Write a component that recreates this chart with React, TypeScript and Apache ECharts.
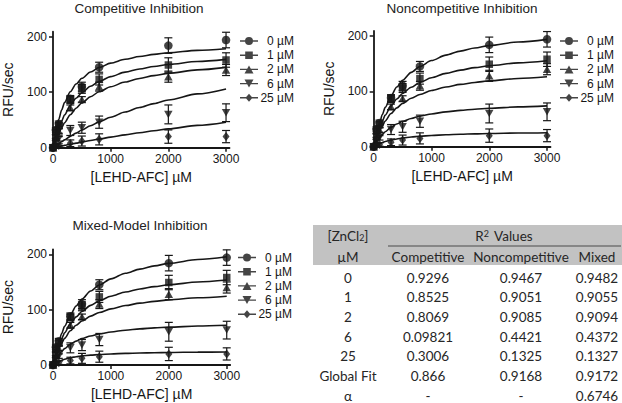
import React, { useEffect, useRef } from "react";
import * as echarts from "echarts";

// ---------- data ----------
const CONCENTRATIONS = ["0 µM", "1 µM", "2 µM", "6 µM", "25 µM"];
const SUBSTRATE = [0, 50, 100, 300, 500, 800, 2000, 3000];

const MEAN_0 = [0, 32, 43, 88, 110, 145, 184, 194];
const MEAN_1 = [0, 28, 40, 86, 106, 123, 149, 158];
const MEAN_2 = [0, 20, 30, 72, 87, 110, 128, 140];
const MEAN_6 = [0, 10, 16, 31, 36, 46, 60, 63];
const MEAN_25 = [0, 3, 4, 8, 12, 15, 20, 20];

const ERR_0 = [0, 4, 5, 6, 8, 9, 14, 14];
const ERR_1 = [0, 4, 5, 6, 8, 10, 13, 13];
const ERR_2 = [0, 3, 4, 5, 5, 8, 10, 10];
const ERR_6 = [0, 3, 4, 9, 10, 11, 17, 16];
const ERR_25 = [0, 2, 3, 6, 9, 10, 12, 11];

// fitted curves, read at these substrate values
const FIT_X = [0, 25, 50, 100, 150, 200, 300, 400, 500, 650, 800, 1000, 1250, 1500, 1750, 2000, 2500, 3000];

const COMP_FIT_0 = [0, 16.0, 29.5, 51.3, 68.0, 81.3, 100.9, 114.7, 125.0, 136.3, 144.4, 152.3, 159.3, 164.3, 168.1, 171.1, 175.4, 178.4];
const COMP_FIT_1 = [0, 10.3, 19.5, 35.3, 48.2, 59.1, 76.2, 89.1, 99.1, 110.7, 119.4, 128.1, 136.1, 141.9, 146.4, 150.0, 155.3, 159.1];
const COMP_FIT_2 = [0, 7.3, 13.9, 25.8, 36.0, 44.9, 59.5, 71.1, 80.6, 91.9, 100.7, 109.8, 118.3, 124.8, 129.9, 134.0, 140.2, 144.7];
const COMP_FIT_6 = [0, 1.9, 3.7, 7.3, 10.8, 14.1, 20.4, 26.3, 31.9, 39.5, 46.5, 54.9, 64.2, 72.3, 79.5, 86.0, 96.9, 105.9];
const COMP_FIT_25 = [0, 0.5, 1.1, 2.1, 3.2, 4.2, 6.2, 8.2, 10.1, 12.9, 15.6, 19.0, 23.1, 26.9, 30.5, 33.9, 40.3, 46.0];

const NONC_FIT_0 = [0, 12.4, 23.5, 42.5, 58.2, 71.3, 92.1, 107.8, 120.1, 134.3, 144.9, 155.6, 165.4, 172.7, 178.2, 182.6, 189.2, 193.9];
const NONC_FIT_1 = [0, 9.9, 18.8, 34.0, 46.6, 57.1, 73.8, 86.3, 96.2, 107.5, 116.1, 124.6, 132.5, 138.3, 142.8, 146.3, 151.5, 155.3];
const NONC_FIT_2 = [0, 8.1, 15.3, 27.7, 37.9, 46.5, 60.0, 70.2, 78.3, 87.5, 94.4, 101.4, 107.8, 112.5, 116.1, 119.0, 123.3, 126.3];
const NONC_FIT_6 = [0, 4.7, 8.9, 16.2, 22.1, 27.1, 35.0, 41.0, 45.7, 51.0, 55.1, 59.2, 62.9, 65.6, 67.7, 69.4, 71.9, 73.7];
const NONC_FIT_25 = [0, 1.6, 3.1, 5.5, 7.6, 9.3, 12.0, 14.0, 15.7, 17.5, 18.9, 20.3, 21.6, 22.5, 23.2, 23.8, 24.7, 25.3];

const MIX_FIT_0 = [0, 12.0, 22.9, 41.5, 56.9, 70.0, 90.8, 106.7, 119.1, 133.6, 144.5, 155.6, 165.7, 173.2, 179.0, 183.6, 190.5, 195.4];
const MIX_FIT_1 = [0, 10.2, 19.3, 34.8, 47.5, 58.0, 74.6, 87.0, 96.7, 107.7, 116.0, 124.3, 131.8, 137.4, 141.6, 145.0, 150.0, 153.5];
const MIX_FIT_2 = [0, 8.6, 16.3, 29.2, 39.6, 48.3, 61.8, 71.8, 79.5, 88.3, 94.9, 101.4, 107.4, 111.7, 115.0, 117.6, 121.5, 124.3];
const MIX_FIT_6 = [0, 5.5, 10.3, 18.2, 24.5, 29.6, 37.5, 43.2, 47.6, 52.5, 56.1, 59.7, 62.9, 65.2, 67.0, 68.4, 70.4, 71.9];
const MIX_FIT_25 = [0, 2.0, 3.7, 6.5, 8.7, 10.4, 13.0, 14.9, 16.3, 17.8, 18.9, 20.0, 21.0, 21.7, 22.2, 22.6, 23.2, 23.6];

const PANEL_TITLES = ["Competitive Inhibition", "Noncompetitive Inhibition", "Mixed-Model Inhibition"];
const X_TICKS = [0, 1000, 2000, 3000];
const Y_TICKS = [0, 100, 200];

const TABLE_ROW_LABELS = ["0", "1", "2", "6", "25", "Global Fit", "α"];
const TABLE_COMPETITIVE = ["0.9296", "0.8525", "0.8069", "0.09821", "0.3006", "0.866", "-"];
const TABLE_NONCOMPETITIVE = ["0.9467", "0.9051", "0.9085", "0.4421", "0.1325", "0.9168", "-"];
const TABLE_MIXED = ["0.9482", "0.9055", "0.9094", "0.4372", "0.1327", "0.9172", "0.6746"];

// ---------- styling ----------
const INK = "#161616";
const FONT = "Liberation Sans, Arial, sans-serif";
const TFONT = "Lato, 'Open Sans', sans-serif";

const MEANS = [MEAN_0, MEAN_1, MEAN_2, MEAN_6, MEAN_25];
const ERRS = [ERR_0, ERR_1, ERR_2, ERR_6, ERR_25];
const FITS = [
  [COMP_FIT_0, COMP_FIT_1, COMP_FIT_2, COMP_FIT_6, COMP_FIT_25],
  [NONC_FIT_0, NONC_FIT_1, NONC_FIT_2, NONC_FIT_6, NONC_FIT_25],
  [MIX_FIT_0, MIX_FIT_1, MIX_FIT_2, MIX_FIT_6, MIX_FIT_25],
];

const SYMBOLS = ["circle", "rect", "triangle", "path://M0,0H10L5,9Z", "diamond"];
const SYMBOL_SIZES: any[] = [8.5, 7.5, [8.5, 7.5], [8.5, 7.5], [7, 9]];
const LEGEND_ICONS = [
  "path://M0,3.3H18V4.7H0Z M13,4A4,4 0 1 1 5,4A4,4 0 1 1 13,4Z",
  "path://M0,3.3H18V4.7H0Z M5.2,0.2H12.8V7.8H5.2Z",
  "path://M0,3.3H18V4.7H0Z M9,0L13.5,8H4.5Z",
  "path://M0,3.3H18V4.7H0Z M4.5,0H13.5L9,8Z",
  "path://M0,3.3H18V4.7H0Z M9,0L12.5,4L9,8L5.5,4Z",
];

const X_MAX = 3060;
const Y_MAX = 209;
const GRIDS = [
  { left: 52.7, top: 31.7, width: 176.8, height: 116 },
  { left: 373.7, top: 31, width: 176.8, height: 115.7 },
  { left: 52.7, top: 249.3, width: 177.5, height: 115.7 },
];
const TITLE_POS = [
  { x: 139, y: 8.5 },
  { x: 462, y: 8.5 },
  { x: 140, y: 225.5 },
];
const LEGEND_POS = [
  { left: 240, top: 35 },
  { left: 560, top: 35 },
  { left: 238, top: 251.5 },
];

function buildOption() {
  const series: any[] = [];
  for (let g = 0; g < 3; g++) {
    for (let c = 0; c < CONCENTRATIONS.length; c++) {
      series.push({
        type: "scatter",
        name: CONCENTRATIONS[c],
        xAxisIndex: g,
        yAxisIndex: g,
        symbol: SYMBOLS[c],
        symbolSize: SYMBOL_SIZES[c],
        itemStyle: { color: INK },
        clip: false,
        z: 4,
        data: SUBSTRATE.map((x, k) => [x, MEANS[c][k]]),
      });
      series.push({
        type: "line",
        name: CONCENTRATIONS[c],
        xAxisIndex: g,
        yAxisIndex: g,
        smooth: 0.3,
        smoothMonotone: "x",
        showSymbol: false,
        symbol: "none",
        lineStyle: { color: INK, width: 1.6 },
        itemStyle: { color: INK },
        z: 3,
        data: FIT_X.map((x, k) => [x, FITS[g][c][k]]),
      });
      series.push({
        type: "custom",
        name: CONCENTRATIONS[c],
        xAxisIndex: g,
        yAxisIndex: g,
        z: 3,
        encode: { x: 0, y: 1 },
        itemStyle: { color: INK },
        renderItem: (params: any, api: any) => {
          const x = api.value(0);
          const y = api.value(1);
          const e = api.value(2);
          if (!e) return { type: "group", children: [] };
          const t = api.coord([x, y + e]);
          const b = api.coord([x, y - e]);
          const hw = 4;
          const st = { stroke: INK, lineWidth: 1.2 };
          return {
            type: "group",
            children: [
              { type: "line", shape: { x1: t[0], y1: t[1], x2: b[0], y2: b[1] }, style: st },
              { type: "line", shape: { x1: t[0] - hw, y1: t[1], x2: t[0] + hw, y2: t[1] }, style: st },
              { type: "line", shape: { x1: b[0] - hw, y1: b[1], x2: b[0] + hw, y2: b[1] }, style: st },
            ],
          };
        },
        data: SUBSTRATE.map((x, k) => [x, MEANS[c][k], ERRS[c][k]]),
      });
    }
  }

  const xAxis = GRIDS.map((_, g) => ({
    type: "value",
    gridIndex: g,
    min: 0,
    max: X_MAX,
    name: "[LEHD-AFC] µM",
    nameLocation: "middle",
    nameGap: 22,
    nameTextStyle: { fontFamily: FONT, fontSize: 14, color: INK },
    axisLine: { show: true, onZero: false, lineStyle: { color: INK, width: 1.8 } },
    axisTick: { show: true, length: 4, customValues: X_TICKS, lineStyle: { color: INK, width: 1.5 } },
    axisLabel: {
      fontFamily: FONT,
      fontSize: 12,
      color: INK,
      margin: 5,
      customValues: X_TICKS,
      formatter: (v: number) => String(v),
    },
    splitLine: { show: false },
  }));
  const yAxis = GRIDS.map((_, g) => ({
    type: "value",
    gridIndex: g,
    min: 0,
    max: Y_MAX,
    name: "RFU/sec",
    nameLocation: "middle",
    nameGap: 38,
    nameTextStyle: { fontFamily: FONT, fontSize: 14, color: INK },
    axisLine: { show: true, onZero: false, lineStyle: { color: INK, width: 1.8 } },
    axisTick: { show: true, length: 4, customValues: Y_TICKS, lineStyle: { color: INK, width: 1.5 } },
    axisLabel: {
      fontFamily: FONT,
      fontSize: 12,
      color: INK,
      margin: 6,
      customValues: Y_TICKS,
      formatter: (v: number) => String(v),
    },
    splitLine: { show: false },
  }));

  const legend = LEGEND_POS.map((p) => ({
    orient: "vertical",
    left: p.left,
    top: p.top,
    padding: 0,
    itemGap: 2.2,
    itemWidth: 18,
    itemHeight: 8,
    itemTextGap: 5,
    selectedMode: false,
    data: CONCENTRATIONS.map((n, i) => ({ name: n, icon: LEGEND_ICONS[i] })),
    formatter: (name: string) => `{t|${name}}`,
    textStyle: {
      fontFamily: FONT,
      fontSize: 12,
      color: INK,
      rich: { t: { width: 31, align: "right", fontFamily: FONT, fontSize: 12, color: INK } },
    },
  }));

  // ---------- titles + table ----------
  const graphic: any[] = PANEL_TITLES.map((t, i) => ({
    type: "text",
    x: TITLE_POS[i].x,
    y: TITLE_POS[i].y,
    style: {
      text: t,
      fill: "#222",
      fontFamily: FONT,
      fontSize: 13.5,
      align: "center",
      verticalAlign: "middle",
    },
  }));

  const colX = [348, 428, 521, 597];
  const tStyle = (text: string, x: number, y: number, extra: any = {}) => ({
    type: "text",
    x,
    y,
    style: {
      text,
      fill: "#262626",
      fontFamily: TFONT,
      fontSize: 13.5,
      lineHeight: 13,
      align: "center",
      verticalAlign: "middle",
      ...extra,
    },
  });
  graphic.push(
    { type: "rect", shape: { x: 313, y: 225, width: 309, height: 40 }, style: { fill: "#c2c2c2" } },
    { type: "line", shape: { x1: 388, y1: 246, x2: 621, y2: 246 }, style: { stroke: "#4a4a4a", lineWidth: 1 } },
    tStyle("[ZnCl{sub|2}]", colX[0], 235.7, {
      rich: { sub: { fontSize: 9, verticalAlign: "bottom", padding: [6, 0, 0, 0], fontFamily: TFONT, fill: "#262626" } },
    }),
    tStyle("R{sup|2} Values", 504, 235.7, {
      rich: { sup: { fontSize: 9, verticalAlign: "top", padding: [0, 2, 6, 0], fontFamily: TFONT, fill: "#262626" } },
    }),
    tStyle("µM", colX[0], 256.7),
    tStyle("Competitive", colX[1], 256.7),
    tStyle("Noncompetitive", colX[2], 256.7),
    tStyle("Mixed", colX[3], 256.7)
  );
  TABLE_ROW_LABELS.forEach((lab, r) => {
    const y = 277.5 + r * 19.7;
    graphic.push(tStyle(lab, colX[0], y));
    graphic.push(tStyle(TABLE_COMPETITIVE[r], colX[1], y));
    graphic.push(tStyle(TABLE_NONCOMPETITIVE[r], colX[2], y));
    graphic.push(tStyle(TABLE_MIXED[r], colX[3], y));
  });

  return {
    animation: false,
    backgroundColor: "#ffffff",
    legend,
    grid: GRIDS.map((g) => ({ ...g, containLabel: false })),
    xAxis,
    yAxis,
    series,
    graphic,
  };
}

export default function App() {
  const ref = useRef<HTMLDivElement>(null);
  useEffect(() => {
    const chart = echarts.init(ref.current!, null, { renderer: "svg" });
    chart.setOption(buildOption() as any);
    return () => chart.dispose();
  }, []);
  return (
    <div
      ref={ref}
      style={{ position: "absolute", left: 0, top: 0, width: 622, height: 403, background: "#fff" }}
    />
  );
}
